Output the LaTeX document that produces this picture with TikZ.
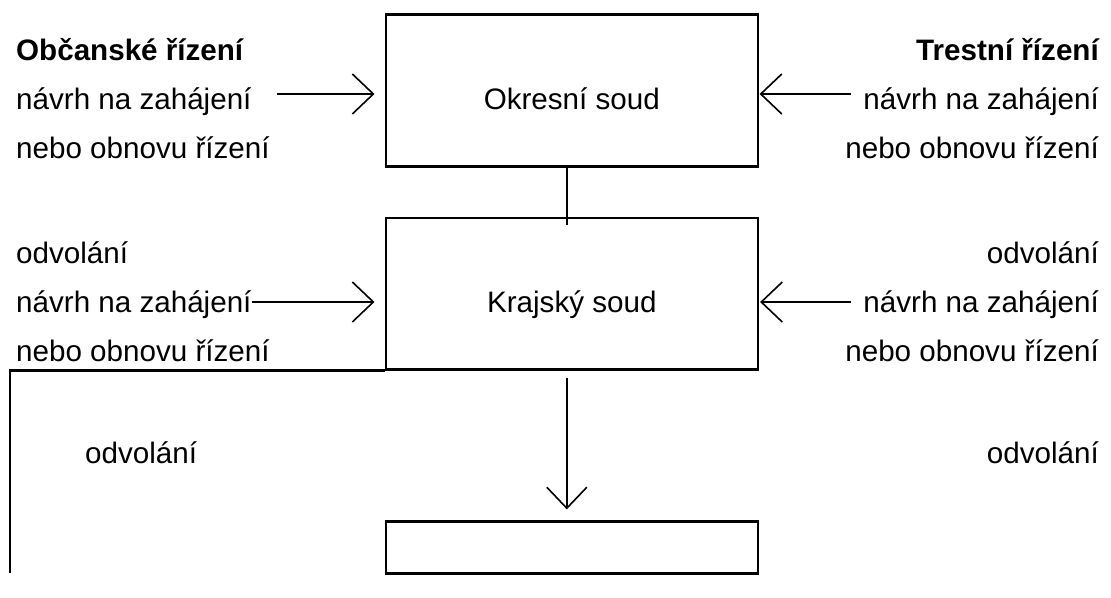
\documentclass[tikz,border=0pt]{standalone}
\usepackage{fontspec}
\setmainfont{Liberation Sans}
\usetikzlibrary{arrows.meta}
\begin{document}
\begin{tikzpicture}[x=1pt,y=-1pt,
  txt/.style={inner sep=0pt,font=\fontsize{29.6}{35}\selectfont},
  boxnode/.style={draw,line width=2.6pt,inner sep=0pt,minimum width=372pt},
  ln/.style={line width=2.6pt,line join=miter},
  arr/.style={line width=1.6pt,-{Straight Barb[length=21pt,width=40pt]}},
  varr/.style={line width=1.6pt}]
\path[fill=white,use as bounding box] (0,0) rectangle (1111,597);
% boxes
\node[boxnode,minimum height=152pt] (okres) at (571.8,90.7) {};
\node[boxnode,minimum height=151.3pt] (kraj) at (571.8,293.7) {};
\node[boxnode,minimum height=51.6pt] (nejv) at (571.8,547.5) {};
\node[txt,anchor=base] (okrest) at (571.8,109) {Okresní soud};
\node[txt,anchor=base] (krajt) at (571.8,312) {Krajský soud};
% left texts
\node[txt,anchor=base west,font=\fontsize{29.6}{35}\selectfont\bfseries] (obc) at (16,60) {Občanské řízení};
\node[txt,anchor=base west] (lnav1) at (16,109) {návrh na zahájení};
\node[txt,anchor=base west] (lneb1) at (16,158) {nebo obnovu řízení};
\node[txt,anchor=base west] (lodv1) at (16,263) {odvolání};
\node[txt,anchor=base west] (lnav2) at (16,312) {návrh na zahájení};
\node[txt,anchor=base west] (lneb2) at (16,361) {nebo obnovu řízení};
\node[txt,anchor=base west] (lodv2) at (85,463) {odvolání};
% right texts
\node[txt,anchor=base east,font=\fontsize{29.6}{35}\selectfont\bfseries] (tr) at (1099,60) {Trestní řízení};
\node[txt,anchor=base east] (rnav1) at (1099,109) {návrh na zahájení};
\node[txt,anchor=base east] (rneb1) at (1099,158) {nebo obnovu řízení};
\node[txt,anchor=base east] (rodv1) at (1099,263) {odvolání};
\node[txt,anchor=base east] (rnav2) at (1099,312) {návrh na zahájení};
\node[txt,anchor=base east] (rneb2) at (1099,361) {nebo obnovu řízení};
\node[txt,anchor=base east] (rodv2) at (1099,463) {odvolání};
% arrow start points
\coordinate (la1) at (277,94);
\coordinate (ra1) at (851,94);
\coordinate (la2) at (252,302);
\coordinate (ra2) at (851,302);
\coordinate (cl) at (10,573);
% connectors
\draw[arr,shorten >=10pt] (la1) -- (la1 -| okres.west);
\draw[arr,shorten >=0.5pt] (ra1) -- (ra1 -| okres.east);
\draw[arr,shorten >=10pt] (la2) -- (la2 -| kraj.west);
\draw[arr,shorten >=1pt] (ra2) -- (ra2 -| kraj.east);
\draw[varr] ([xshift=-5pt]okres.south) -- ([xshift=-5pt,yshift=-8pt]kraj.north);
\draw[arr] ([xshift=-5pt,yshift=-7pt]kraj.south) -- ([xshift=-5pt,yshift=11pt]nejv.north);
\draw[ln] (kraj.south west) -- (kraj.south west -| cl) -- (cl);
\end{tikzpicture}
\end{document}
